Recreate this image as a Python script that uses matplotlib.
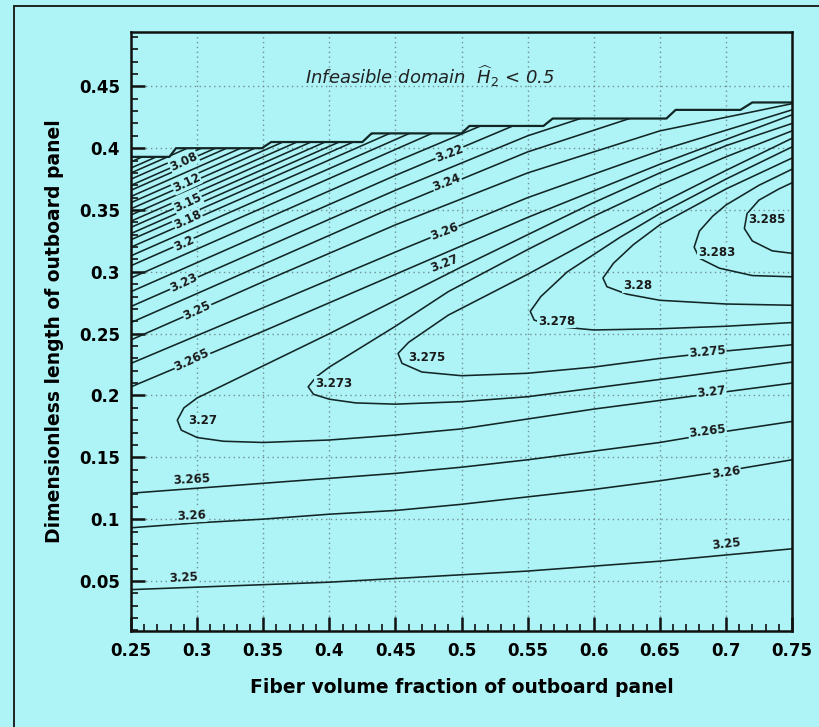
import matplotlib
matplotlib.use("Agg")
import matplotlib.pyplot as plt
import numpy as np
from matplotlib.patches import Polygon, Rectangle

BG = "#aef4f7"
INK = "#122626"

# staircase edge of the infeasible domain
boundary_x = [0.25, 0.279, 0.284, 0.349, 0.356, 0.425, 0.432, 0.500, 0.506, 0.562, 0.569, 0.655, 0.662, 0.711, 0.720, 0.75]
boundary_y = [0.393, 0.393, 0.400, 0.400, 0.405, 0.405, 0.412, 0.412, 0.418, 0.418, 0.424, 0.424, 0.431, 0.431, 0.437, 0.437]

# fan of contours entering from the left edge, y read at fixed x stations
fan_x = [0.25, 0.35, 0.45, 0.55, 0.65, 0.75]
fan_levels = [3.04, 3.05, 3.06, 3.07, 3.08, 3.09, 3.10, 3.11, 3.12, 3.13, 3.14, 3.15,
              3.16, 3.17, 3.18, 3.19, 3.20, 3.21, 3.22, 3.23, 3.24, 3.25, 3.26, 3.265]
fan_y_025 = [0.389, 0.384, 0.380, 0.375, 0.370, 0.366, 0.361, 0.356, 0.351, 0.346, 0.341, 0.336,
             0.331, 0.326, 0.320, 0.313, 0.305, 0.295, 0.284, 0.272, 0.259, 0.245, 0.226, 0.207]
fan_y_035 = [0.436, 0.431, 0.427, 0.422, 0.417, 0.413, 0.408, 0.403, 0.398, 0.393, 0.388, 0.383,
             0.378, 0.373, 0.367, 0.360, 0.352, 0.342, 0.331, 0.319, 0.306, 0.292, 0.271, 0.252]
fan_y_045 = [0.483, 0.478, 0.474, 0.469, 0.464, 0.460, 0.455, 0.450, 0.445, 0.440, 0.435, 0.430,
             0.425, 0.420, 0.414, 0.407, 0.399, 0.389, 0.378, 0.366, 0.353, 0.338, 0.316, 0.298]
fan_y_055 = [0.530, 0.525, 0.521, 0.516, 0.511, 0.507, 0.502, 0.497, 0.492, 0.487, 0.482, 0.477,
             0.472, 0.467, 0.461, 0.454, 0.446, 0.434, 0.423, 0.410, 0.397, 0.380, 0.360, 0.344]
fan_y_065 = [0.577, 0.572, 0.568, 0.563, 0.558, 0.554, 0.549, 0.544, 0.539, 0.534, 0.529, 0.524,
             0.519, 0.514, 0.508, 0.501, 0.493, 0.476, 0.460, 0.445, 0.432, 0.414, 0.398, 0.387]
fan_y_075 = [0.624, 0.619, 0.615, 0.610, 0.605, 0.601, 0.596, 0.591, 0.586, 0.581, 0.576, 0.571,
             0.566, 0.561, 0.555, 0.548, 0.540, 0.510, 0.490, 0.470, 0.455, 0.436, 0.431, 0.427]

# lower, almost flat contours
low_x = [0.25, 0.30, 0.35, 0.40, 0.45, 0.50, 0.55, 0.60, 0.65, 0.70, 0.75]
low_325 = [0.043, 0.045, 0.047, 0.049, 0.052, 0.055, 0.058, 0.062, 0.066, 0.071, 0.076]
low_326 = [0.093, 0.097, 0.100, 0.104, 0.107, 0.112, 0.118, 0.124, 0.131, 0.139, 0.148]
low_3265 = [0.121, 0.125, 0.129, 0.133, 0.137, 0.142, 0.148, 0.155, 0.162, 0.171, 0.179]

# U-shaped contours opening to the right: (x, y) from lower arm round the nose to upper arm
u_3270 = [(0.75, 0.210), (0.70, 0.203), (0.65, 0.196), (0.60, 0.189), (0.55, 0.181), (0.50, 0.173),
          (0.45, 0.168), (0.40, 0.164), (0.35, 0.162), (0.32, 0.163), (0.30, 0.166), (0.288, 0.172),
          (0.285, 0.180), (0.29, 0.190), (0.30, 0.198), (0.35, 0.224), (0.40, 0.250), (0.45, 0.277),
          (0.50, 0.304), (0.55, 0.330), (0.60, 0.356), (0.65, 0.380), (0.70, 0.402), (0.75, 0.420)]
u_3273 = [(0.75, 0.227), (0.70, 0.220), (0.65, 0.213), (0.60, 0.206), (0.55, 0.199), (0.50, 0.195),
          (0.45, 0.193), (0.42, 0.194), (0.40, 0.197), (0.388, 0.201), (0.384, 0.207), (0.39, 0.215),
          (0.40, 0.223), (0.45, 0.256), (0.49, 0.284), (0.55, 0.318), (0.60, 0.345), (0.65, 0.370),
          (0.70, 0.393), (0.75, 0.414)]
u_3275 = [(0.75, 0.241), (0.70, 0.236), (0.65, 0.230), (0.60, 0.223), (0.55, 0.218), (0.50, 0.216),
          (0.47, 0.219), (0.455, 0.226), (0.452, 0.234), (0.46, 0.243), (0.49, 0.265), (0.55, 0.298),
          (0.60, 0.327), (0.65, 0.355), (0.70, 0.382), (0.75, 0.408)]
u_3278 = [(0.75, 0.259), (0.70, 0.256), (0.65, 0.254), (0.60, 0.253), (0.57, 0.256), (0.555, 0.261),
          (0.552, 0.268), (0.56, 0.280), (0.58, 0.300), (0.62, 0.328), (0.65, 0.347), (0.70, 0.375),
          (0.75, 0.401)]
u_3280 = [(0.75, 0.273), (0.70, 0.274), (0.65, 0.277), (0.625, 0.282), (0.61, 0.288), (0.607, 0.295),
          (0.615, 0.307), (0.63, 0.322), (0.65, 0.338), (0.70, 0.367), (0.75, 0.392)]
u_3283 = [(0.75, 0.296), (0.72, 0.297), (0.695, 0.303), (0.68, 0.311), (0.676, 0.320), (0.68, 0.333),
          (0.69, 0.345), (0.70, 0.354), (0.725, 0.370), (0.75, 0.383)]
u_3285 = [(0.75, 0.315), (0.735, 0.317), (0.72, 0.325), (0.714, 0.335), (0.716, 0.347), (0.725, 0.358),
          (0.74, 0.367), (0.75, 0.372)]

# contour labels as printed on the chart
label_text = ["3.08", "3.12", "3.15", "3.18", "3.2", "3.23", "3.25", "3.265",
              "3.22", "3.24", "3.26", "3.27",
              "3.285", "3.283", "3.28", "3.278", "3.275", "3.273", "3.27",
              "3.275", "3.27", "3.265", "3.26", "3.25",
              "3.265", "3.26", "3.25"]
label_x = [0.290, 0.292, 0.293, 0.293, 0.290, 0.290, 0.300, 0.296,
           0.491, 0.489, 0.487, 0.487,
           0.731, 0.693, 0.633, 0.572, 0.474, 0.403, 0.304,
           0.686, 0.689, 0.686, 0.700, 0.700,
           0.296, 0.296, 0.290]
label_y = [0.389, 0.372, 0.356, 0.342, 0.323, 0.291, 0.269, 0.229,
           0.396, 0.372, 0.333, 0.307,
           0.342, 0.316, 0.289, 0.260, 0.231, 0.210, 0.180,
           0.235, 0.203, 0.171, 0.138, 0.080,
           0.132, 0.103, 0.053]
label_rot = [25, 25, 25, 25, 25, 25, 25, 25,
             21, 21, 21, 21,
             0, 0, 0, 0, 0, 0, 0,
             5, 6, 7, 8, 6,
             3, 3, 3]

plt.rcParams["font.family"] = ["DejaVu Sans"]

fig = plt.figure(figsize=(8.19, 7.27), dpi=100, facecolor=BG)
ax = fig.add_axes([0.160, 0.132, 0.807, 0.824])
ax.set_facecolor(BG)

ax.set_xlim(0.25, 0.75)
ax.set_ylim(0.0095, 0.494)
ax.set_xticks(np.arange(0.25, 0.7501, 0.05))
ax.set_xticklabels(["0.25", "0.3", "0.35", "0.4", "0.45", "0.5", "0.55", "0.6", "0.65", "0.7", "0.75"])
ax.set_yticks(np.arange(0.05, 0.4501, 0.05))
ax.set_yticklabels(["0.05", "0.1", "0.15", "0.2", "0.25", "0.3", "0.35", "0.4", "0.45"])
ax.set_xticks(np.arange(0.26, 0.75, 0.01), minor=True)
ax.set_yticks(np.arange(0.01, 0.494, 0.01), minor=True)
ax.tick_params(which="major", direction="in", length=10, width=1.8, color="#111",
               labelsize=12, pad=8, top=False, right=False)
ax.tick_params(which="minor", direction="in", length=5, width=1.2, color="#111", top=False, right=False)
for lab in ax.get_xticklabels() + ax.get_yticklabels():
    lab.set_fontweight("bold")
for sp in ax.spines.values():
    sp.set_linewidth(1.8)
    sp.set_color("#111")
ax.grid(True, which="major", linestyle=(0, (1, 2.5)), color="#6f8f92", linewidth=1.0)
ax.set_axisbelow(True)

# feasible region used to clip contour lines at the staircase
feasible = Polygon(list(zip(boundary_x, boundary_y)) + [(0.75, 0.0), (0.25, 0.0)],
                   closed=True, transform=ax.transData)

lw = 1.15
for i in range(len(fan_levels)):
    ys = [fan_y_025[i], fan_y_035[i], fan_y_045[i], fan_y_055[i], fan_y_065[i], fan_y_075[i]]
    ln, = ax.plot(fan_x, ys, color=INK, lw=lw)
    ln.set_clip_path(feasible)

for ys in (low_325, low_326, low_3265):
    ax.plot(low_x, ys, color=INK, lw=lw)

for pts in (u_3270, u_3273, u_3275, u_3278, u_3280, u_3283, u_3285):
    xs, ys = zip(*pts)
    ln, = ax.plot(xs, ys, color=INK, lw=lw)
    ln.set_clip_path(feasible)

ax.plot(boundary_x, boundary_y, color=INK, lw=1.6)

for t, x, y, r in zip(label_text, label_x, label_y, label_rot):
    ax.text(x, y, t, rotation=r, rotation_mode="anchor", ha="center", va="center",
            fontsize=8.5, fontweight="bold", color="#1a1a1a",
            bbox=dict(boxstyle="square,pad=0.05", facecolor=BG, edgecolor="none"))

ax.text(0.476, 0.458, r"Infeasible domain  $\widehat{H}_2$ < 0.5", ha="center", va="center",
        fontsize=13, style="italic", color="#222")

ax.set_xlabel("Fiber volume fraction of outboard panel", fontsize=13.5, fontweight="bold", labelpad=13)
ax.set_ylabel("Dimensionless length of outboard panel", fontsize=13.5, fontweight="bold", labelpad=11)

# outer frame of the original picture (only its left and top edges fall inside)
fig.add_artist(Rectangle((14 / 819, -0.1), 1.2, 1.1 - 6 / 727, transform=fig.transFigure,
                         fill=False, edgecolor="#222", linewidth=1.4))

fig.savefig("out.png", dpi=100, facecolor=BG)
